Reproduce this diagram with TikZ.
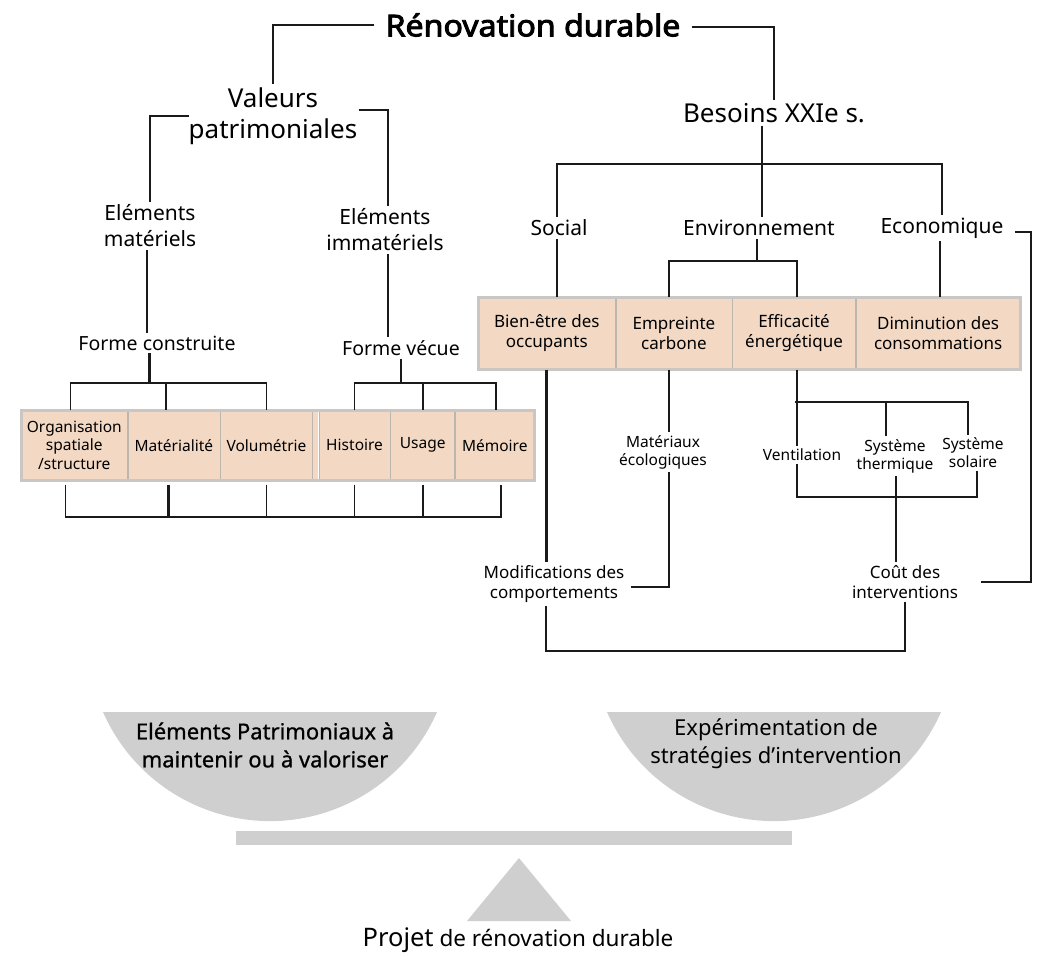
\documentclass[tikz,border=0pt]{standalone}
\usepackage{fontspec}
\setmainfont{Noto Sans}
\newfontfamily\ttlfont[FakeBold=3,FakeStretch=1.07]{Noto Sans}
\newfontfamily\panfont[FakeBold=0.8]{Noto Sans}
\usetikzlibrary{positioning}
\definecolor{ink}{HTML}{1A1A1A}
\definecolor{peach}{HTML}{F3D9C4}
\definecolor{cellline}{HTML}{BDB6AF}
\definecolor{stripline}{HTML}{C9C6C3}
\definecolor{scalegray}{HTML}{CFCFCF}

\begin{document}
\begin{tikzpicture}[x=1pt,y=-1pt,
  ln/.style={draw=ink,line width=1.6pt},
  thk/.style={draw=ink,line width=3pt},
  txt/.style={align=center,inner sep=3pt},
  ttl/.style={txt,font=\ttlfont\fontsize{30}{34}\selectfont},
  lvone/.style={txt,font=\fontsize{26}{31}\selectfont},
  lvtwo/.style={txt,font=\fontsize{21}{26}\selectfont},
  lvthree/.style={txt,font=\fontsize{19.5}{22}\selectfont},
  sml/.style={txt,font=\fontsize{15.5}{18}\selectfont},
  lnk/.style={txt,font=\fontsize{17}{20}\selectfont},
  cell/.style={fill=peach,draw=cellline,line width=.6pt,minimum height=70pt,inner sep=2pt,align=center,font=\fontsize{15.5}{18.5}\selectfont},
  rcell/.style={cell,minimum height=72pt,font=\fontsize{17}{20}\selectfont},
  stripbox/.style={draw=stripline,line width=3pt},
  panfill/.style={fill=scalegray},
  pantext/.style={txt,font=\fontsize{22}{28}\selectfont}]

  \useasboundingbox (0,0) rectangle (1046,959);

  \node[ttl] (title) at (533,25) {Rénovation durable};
  \node[lvone] (val) at (273,116) {Valeurs\\patrimoniales};
  \node[lvone] (bes) at (774,113) {Besoins XXIe s.};

  \node[lvtwo] (em) at (150,226) {Eléments\\matériels};
  \node[lvtwo] (eim) at (385,230) {Eléments\\immatériels};
  \node[lvthree] (fc) at (157,343) {Forme construite};
  \node[lvthree] (fv) at (401,348) {Forme vécue};

  \node[lvtwo] (soc) at (559,228) {Social};
  \node[lvtwo] (env) at (759,228) {Environnement};
  \node[lvtwo] (eco) at (942,228) {Economique};

  \node[cell,minimum width=106pt,anchor=north west] (c1) at (21,410) {Organisation\\spatiale\\/structure};
  \node[cell,minimum width=92pt,right=0pt of c1] (c2) {Matérialité};
  \node[cell,minimum width=92pt,right=0pt of c2] (c3) {Volumétrie};
  \node[cell,minimum width=71pt,right=6pt of c3] (c4) {Histoire};
  \node[cell,minimum width=64pt,right=0pt of c4] (c5) {Usage};
  \node[cell,minimum width=79pt,right=0pt of c5] (c6) {Mémoire};
  \fill[peach] ([xshift=.4pt]c3.north east) rectangle ([xshift=-.4pt]c4.south west);
  \draw[stripbox] (c1.north west) rectangle (c6.south east);

  \node[rcell,minimum width=137pt,anchor=north west] (r1) at (478,297) {Bien-être des\\occupants};
  \node[rcell,minimum width=116pt,right=0pt of r1] (r2) {Empreinte\\carbone};
  \node[rcell,minimum width=123pt,right=0pt of r2] (r3) {Efficacité\\énergétique};
  \node[rcell,minimum width=164pt,right=0pt of r3] (r4) {Diminution des\\consommations};
  \draw[stripbox] (r1.north west) rectangle (r4.south east);

  \node[sml] (mat) at (663,452) {Matériaux\\écologiques};
  \node[sml] (vent) at (802,455) {Ventilation};
  \node[sml] (sth) at (895,456) {Système\\thermique};
  \node[sml] (sso) at (973,453) {Système\\solaire};
  \node[lnk] (mod) at (554,584) {Modifications des\\comportements};
  \node[lnk] (cout) at (905,582) {Coût des\\interventions};

  \coordinate (fcj) at (149,383);
  \coordinate (fvj) at (401,383);
  \coordinate (lb) at (0,517);
  \coordinate (bj) at (762,164);
  \coordinate (ej) at (757,261);
  \coordinate (vj) at (795,402);
  \coordinate (tj) at (896,497);
  \coordinate (ex) at (1031,0);
  \coordinate (bb) at (0,651);

  \draw[ln] ([xshift=-8pt]title.west) -| (val.north);
  \draw[ln] ([xshift=8pt,yshift=-2pt]title.east) -| (bes.north);
  \draw[ln] ([xshift=4pt]val.west) -| (em.north);
  \draw[ln] ([xshift=-2pt,yshift=6pt]val.east) -| ([xshift=3pt]eim.north);
  \draw[ln] ([xshift=-3pt]em.south) -- ([xshift=-3pt]em.south |- fc.north);
  \draw[ln] ([xshift=3pt]eim.south) -- ([xshift=3pt]eim.south |- fv.north);

  \draw[thk] (fcj |- fc.south) -- (fcj);
  \draw[ln] ([xshift=-4pt]c1.north) |- (fcj) -| (c3.north);
  \draw[ln] ([xshift=-8pt]c2.north) -- ([xshift=-8pt]c2.north |- fcj);
  \draw[ln] (fvj |- fv.south) -- (fvj);
  \draw[ln] (c4.north) |- (fvj) -| ([xshift=1pt]c6.north);
  \draw[ln] (c5.north) -- (c5.north |- fvj);

  \draw[ln] ([xshift=-9pt,yshift=-4pt]c1.south) |- ([xshift=6pt]c6.south |- lb) -- ([xshift=6pt,yshift=-4pt]c6.south);
  \draw[thk] ([xshift=-5pt,yshift=-4pt]c2.south) -- ([xshift=-5pt]c2.south |- lb);
  \foreach \c in {c3,c4,c5}
    \draw[ln] ([yshift=-4pt]\c.south) -- (\c.south |- lb);

  \draw[ln] (bj |- bes.south) -- (bj |- env.north);
  \draw[ln] ([xshift=-2pt]soc.north) |- (bj) -| (eco.north);
  \draw[ln] ([xshift=-2pt]soc.south) -- ([xshift=-2pt]soc.south |- r1.north);
  \draw[ln] (ej |- env.south) -- (ej);
  \draw[ln] ([xshift=-5pt]r2.north) |- (ej) -| ([xshift=3pt]r3.north);
  \draw[ln] ([xshift=-2pt]eco.south) -- ([xshift=-2pt]eco.south |- r4.north);
  \draw[ln] ([xshift=8pt,yshift=-4pt]eco.east) -| (ex |- cout.east) -- ([xshift=20pt]cout.east);

  \draw[thk] (r1.south) -- (r1.south |- mod.north);
  \draw[ln] ([xshift=-5pt]r2.south) -- ([xshift=-5pt]r2.south |- mat.north);
  \draw[ln] ([xshift=-5pt]r2.south |- mat.south) |- ([xshift=4pt,yshift=-3pt]mod.east);
  \draw[ln] ([xshift=3pt]r3.south) -- ([xshift=3pt]r3.south |- vent.north);
  \draw[ln] (vj) -| ([xshift=-5pt]sso.north);
  \draw[ln] ([xshift=-9pt]sth.north) -- ([xshift=-9pt]sth.north |- vj);
  \draw[ln] ([xshift=-5pt]vent.south) |- (tj) -| ([xshift=4pt]sso.south);
  \draw[ln] (tj |- sth.south) -- (tj |- cout.north);
  \draw[ln] ([xshift=-8pt]mod.south) |- (bb -| cout.south) -- (cout.south);

  \fill[panfill] (103,712) arc[start angle=203.7,end angle=336.3,radius=182.4pt] -- cycle;
  \fill[panfill] (607,712) arc[start angle=203.7,end angle=336.3,radius=182.4pt] -- cycle;
  \fill[panfill] (236,831) rectangle (792,845);
  \fill[panfill] (519,858) -- (571,921) -- (467,921) -- cycle;

  \node[pantext,font=\panfont\fontsize{22}{28}\selectfont] (pl) at (265,745) {Eléments Patrimoniaux à\\maintenir ou à valoriser};
  \node[pantext] (pr) at (776,744) {Expérimentation de\\stratégies d’intervention};
  \node[txt,font=\fontsize{22.5}{26}\selectfont] (proj) at (518,940) {{\fontsize{25.5}{30}\selectfont Projet} de rénovation durable};
\end{tikzpicture}
\end{document}
